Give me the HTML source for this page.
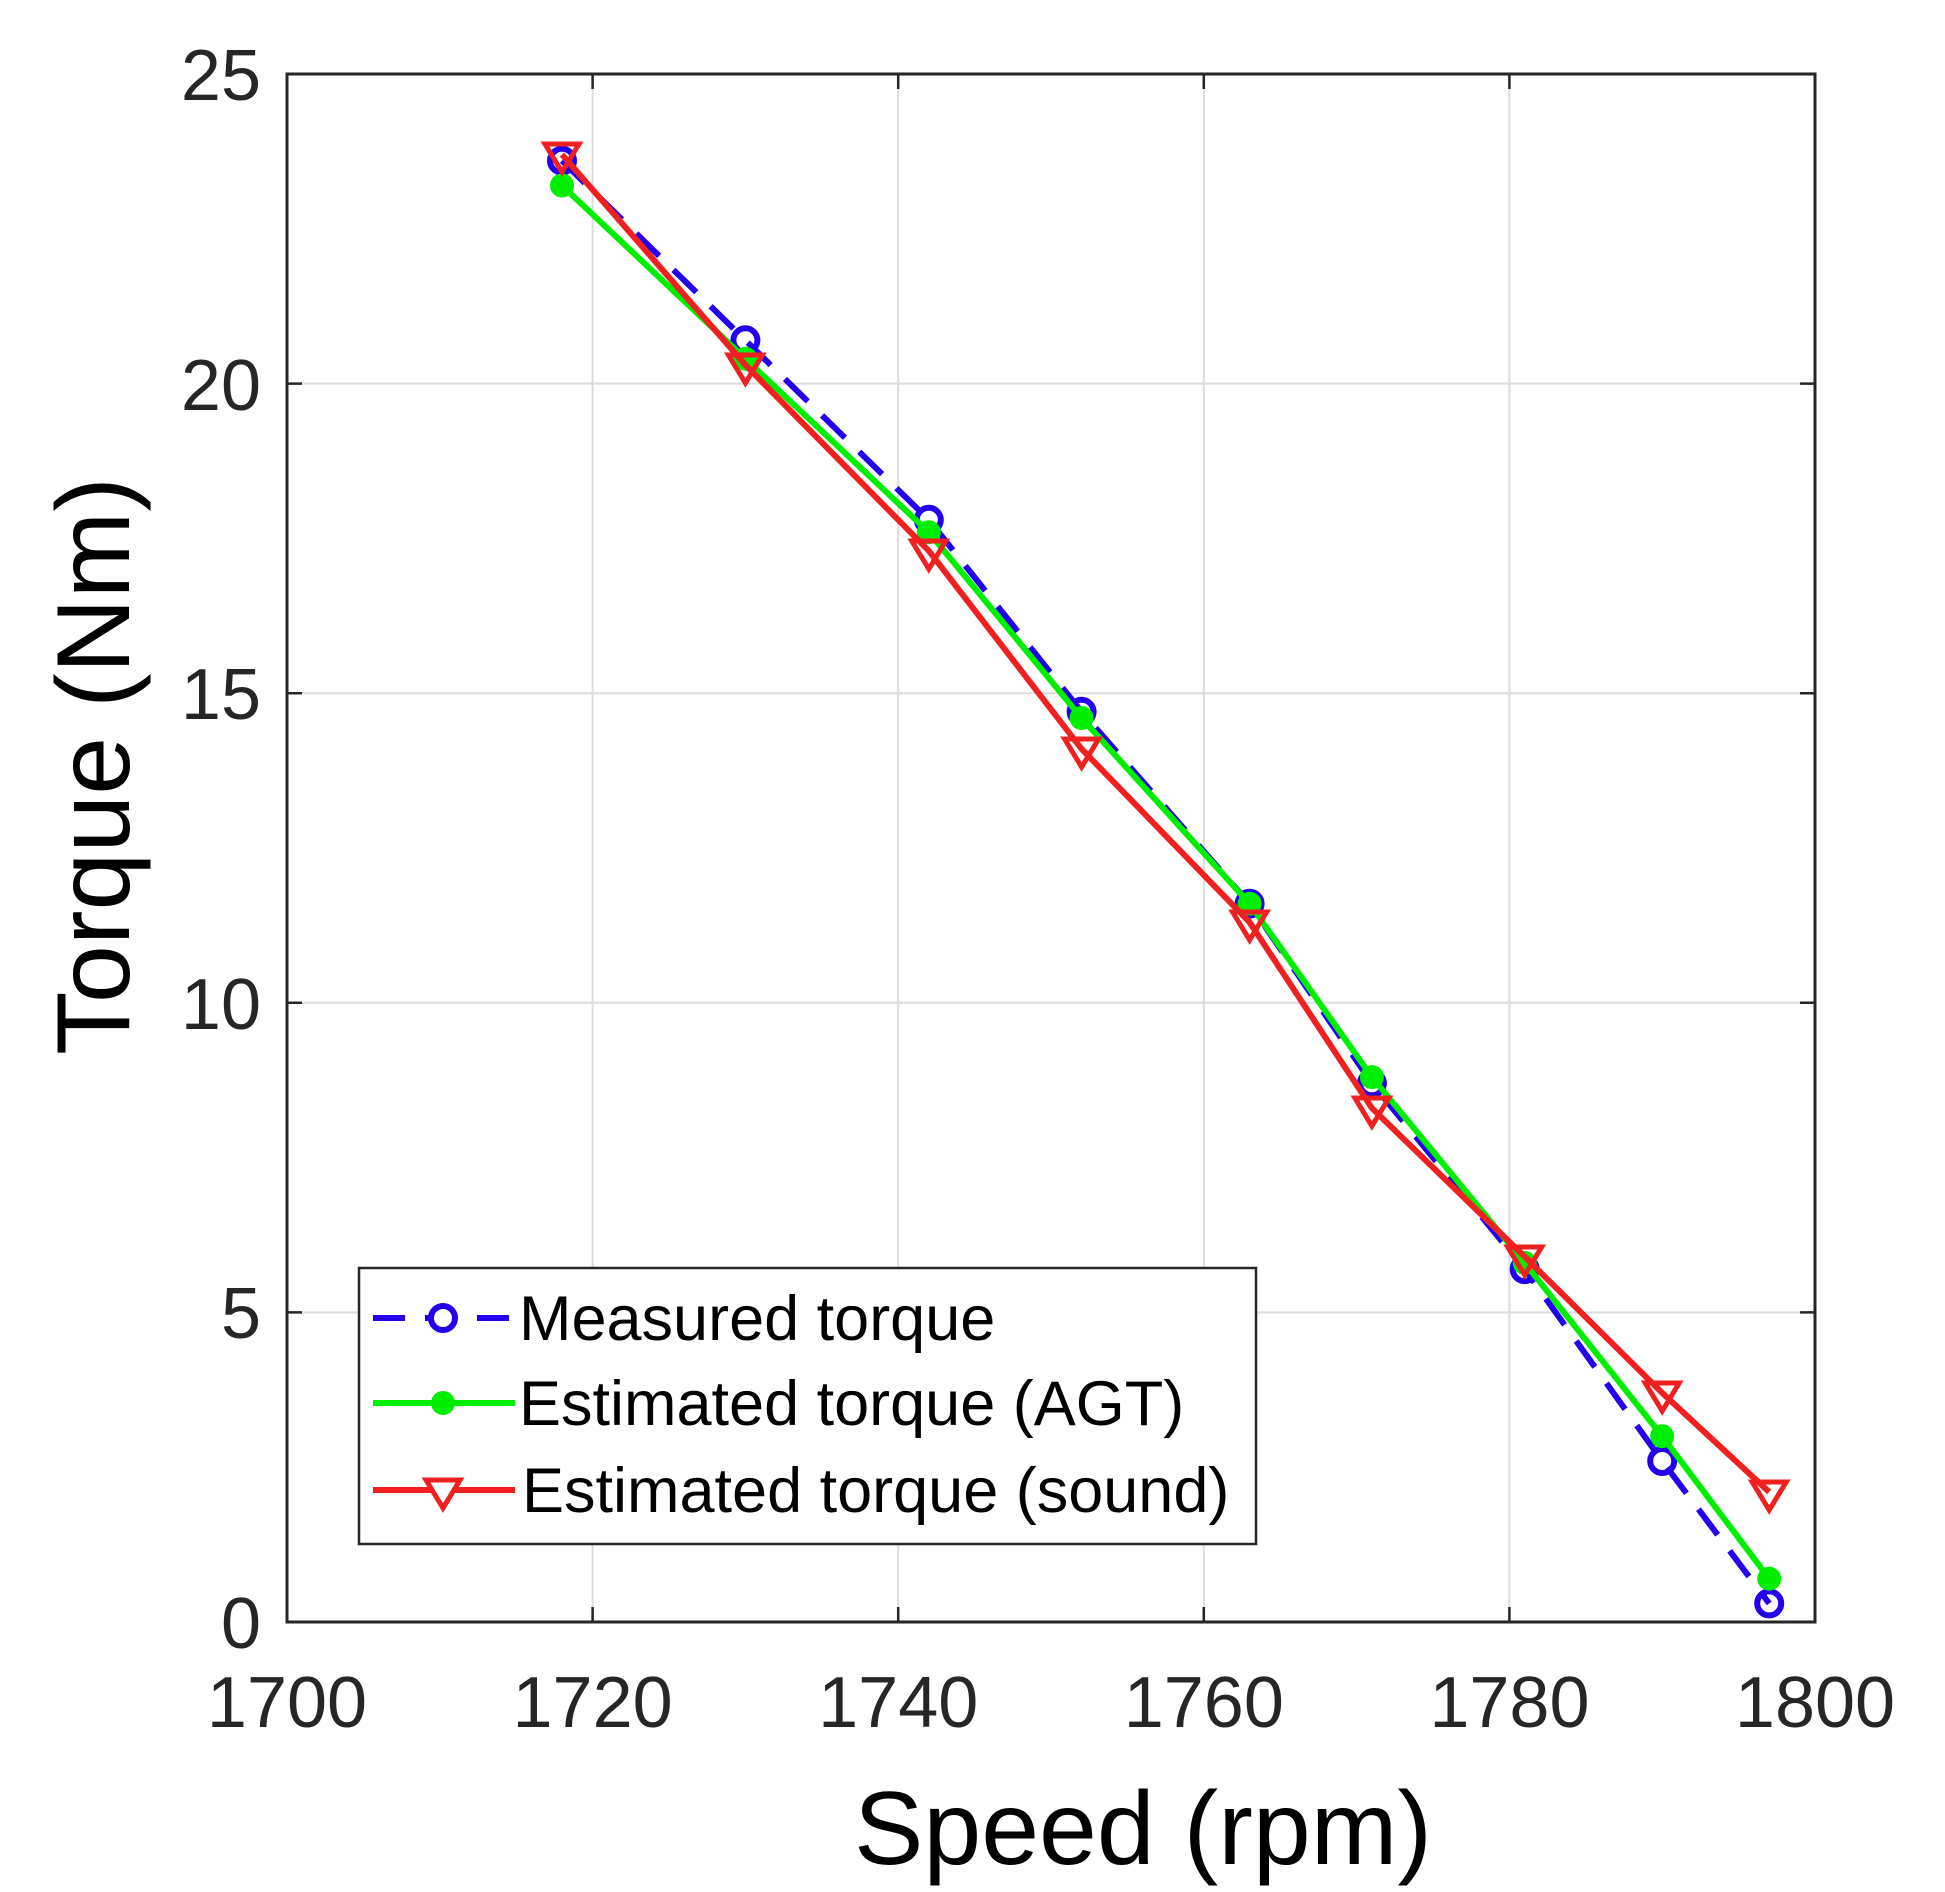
<!DOCTYPE html>
<html><head><meta charset="utf-8"><style>html,body{margin:0;padding:0;background:#fff}svg{display:block}</style></head>
<body>
<svg width="1945" height="1892" viewBox="0 0 1945 1892" xmlns="http://www.w3.org/2000/svg" font-family="Liberation Sans, DejaVu Sans, sans-serif">
<rect width="1945" height="1892" fill="#fff"/>
<g stroke="#dcdcdc" stroke-width="2">
<line x1="592.6" y1="74" x2="592.6" y2="1622"/><line x1="898.2" y1="74" x2="898.2" y2="1622"/>
<line x1="1203.8" y1="74" x2="1203.8" y2="1622"/><line x1="1509.4" y1="74" x2="1509.4" y2="1622"/>
<line x1="287" y1="1312.4" x2="1815" y2="1312.4"/><line x1="287" y1="1002.8" x2="1815" y2="1002.8"/>
<line x1="287" y1="693.2" x2="1815" y2="693.2"/><line x1="287" y1="383.6" x2="1815" y2="383.6"/>
</g>
<g stroke="#262626" stroke-width="2.5">
<path d="M592.6 1622v-15M898.2 1622v-15M1203.8 1622v-15M1509.4 1622v-15M592.6 74v15M898.2 74v15M1203.8 74v15M1509.4 74v15"/>
<path d="M287 1312.4h15M287 1002.8h15M287 693.2h15M287 383.6h15M1815 1312.4h-15M1815 1002.8h-15M1815 693.2h-15M1815 383.6h-15"/>
<rect x="287" y="74" width="1528" height="1548" fill="none" stroke-width="3"/>
</g>
<g font-size="72" fill="#262626">
<g text-anchor="end"><text x="261" y="1648">0</text><text x="261" y="1338">5</text><text x="261" y="1029">10</text><text x="261" y="719">15</text><text x="261" y="410">20</text><text x="261" y="100">25</text></g>
<g text-anchor="middle"><text x="287" y="1727">1700</text><text x="592.6" y="1727">1720</text><text x="898.2" y="1727">1740</text><text x="1203.8" y="1727">1760</text><text x="1509.4" y="1727">1780</text><text x="1815" y="1727">1800</text></g>
</g>
<text x="1143" y="1864" font-size="104" text-anchor="middle" fill="#000">Speed (rpm)</text>
<text transform="translate(129,766) rotate(-90)" font-size="104" text-anchor="middle" fill="#000">Torque (Nm)</text>
<!-- measured -->
<polyline fill="none" stroke="#2200ee" stroke-width="6" stroke-dasharray="32,20" points="562,160.7 745.4,340.3 928.8,519.8 1081.6,711.8 1249.6,903.7 1371.9,1083.3 1524.7,1269.1 1662.2,1461 1769.2,1603.4"/>
<g fill="none" stroke="#2200ee" stroke-width="6">
<circle cx="562" cy="160.7" r="12"/><circle cx="745.4" cy="340.3" r="12"/><circle cx="928.8" cy="519.8" r="12"/><circle cx="1081.6" cy="711.8" r="12"/><circle cx="1249.6" cy="903.7" r="12"/><circle cx="1371.9" cy="1083.3" r="12"/><circle cx="1524.7" cy="1269.1" r="12"/><circle cx="1662.2" cy="1461" r="12"/><circle cx="1769.2" cy="1603.4" r="12"/>
</g>
<!-- AGT -->
<polyline fill="none" stroke="#00ee00" stroke-width="6" points="562,185.5 745.4,358.8 928.8,532.2 1081.6,718 1249.6,903.7 1371.9,1077.1 1524.7,1262.9 1662.2,1436.2 1769.2,1578.7"/>
<g fill="#00ee00">
<circle cx="562" cy="185.5" r="12"/><circle cx="745.4" cy="358.8" r="12"/><circle cx="928.8" cy="532.2" r="12"/><circle cx="1081.6" cy="718" r="12"/><circle cx="1249.6" cy="903.7" r="12"/><circle cx="1371.9" cy="1077.1" r="12"/><circle cx="1524.7" cy="1262.9" r="12"/><circle cx="1662.2" cy="1436.2" r="12"/><circle cx="1769.2" cy="1578.7" r="12"/>
</g>
<!-- sound -->
<polyline fill="none" stroke="#f02020" stroke-width="6" points="562,154.5 745.4,365 928.8,550.8 1081.6,748.9 1249.6,922.3 1371.9,1108.1 1524.7,1256.7 1662.2,1392.9 1769.2,1492"/>
<g fill="none" stroke="#f02020" stroke-width="5">
<path d="M545 144h34l-17 28z"/><path d="M728.4 355h34l-17 28z"/><path d="M911.8 541h34l-17 28z"/><path d="M1064.6 739h34l-17 28z"/><path d="M1232.6 912h34l-17 28z"/><path d="M1354.9 1098h34l-17 28z"/><path d="M1507.7 1247h34l-17 28z"/><path d="M1645.2 1383h34l-17 28z"/><path d="M1752.2 1482h34l-17 28z"/>
</g>
<!-- legend -->
<rect x="359" y="1268" width="897" height="276" fill="#fff" stroke="#262626" stroke-width="2.5"/>
<line x1="373" y1="1318" x2="515" y2="1318" stroke="#2200ee" stroke-width="6" stroke-dasharray="32,20"/>
<circle cx="443" cy="1318" r="12" fill="#fff" stroke="#2200ee" stroke-width="6"/>
<line x1="373" y1="1403" x2="515" y2="1403" stroke="#00ee00" stroke-width="6"/>
<circle cx="443" cy="1403" r="12" fill="#00ee00"/>
<line x1="373" y1="1490" x2="515" y2="1490" stroke="#f02020" stroke-width="6"/>
<path d="M426 1480h34l-17 28z" fill="#fff" stroke="#f02020" stroke-width="5"/>
<g font-size="63" fill="#000">
<text x="519" y="1340">Measured torque</text>
<text x="519" y="1425">Estimated torque (AGT)</text>
<text x="522" y="1512">Estimated torque (sound)</text>
</g>
</svg>
</body></html>
